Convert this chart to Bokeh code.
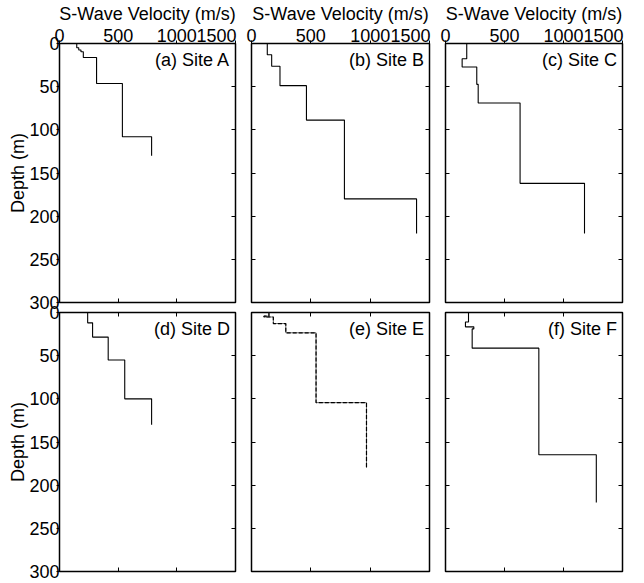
from bokeh.plotting import figure
from bokeh.models import Range1d, LinearAxis, FixedTicker, Label
from bokeh.layouts import column, row
from bokeh.embed import file_html
from bokeh.resources import INLINE

FONT = "Liberation Sans"
FSIZE = 18
FS = f"{FSIZE}px"

x_ticks = [0, 500, 1000, 1500]
y_ticks = [0, 50, 100, 150, 200, 250, 300]
x_title = "S-Wave Velocity (m/s)"
y_title = "Depth (m)"
site_names = ["(a) Site A", "(b) Site B", "(c) Site C",
              "(d) Site D", "(e) Site E", "(f) Site F"]

# layer top depth (m), layer S-wave velocity (m/s), profile end depth (m)
a_top = [0, 5, 7.6, 9.5, 16.3, 46.3, 108]
a_vs = [147, 164, 183, 203, 316, 536, 785]
a_end = 130

b_top = [0, 13.1, 26.4, 48.8, 88.7, 180]
b_vs = [133, 170, 240, 463, 783, 1391]
b_end = 220

c_top = [0, 17.7, 27.2, 47.3, 69, 162]
c_vs = [180, 141, 265, 277, 632, 1178]
c_end = 220

d_top = [0, 12, 28.5, 55, 100]
d_vs = [240, 282, 415, 556, 785]
d_end = 130

e_top = [0, 4.2, 5.2, 12.8, 23.5, 104.4]
e_vs = [147, 105, 184, 289, 544, 969]
e_end = 180

f_top = [0, 11, 16.6, 19, 41.3, 164.7]
f_vs = [195, 169, 240, 226, 791, 1278]
f_end = 220

profiles = [(a_top, a_vs, a_end), (b_top, b_vs, b_end), (c_top, c_vs, c_end),
            (d_top, d_vs, d_end), (e_top, e_vs, e_end), (f_top, f_vs, f_end)]


def step_xy(tops, vs, end):
    bottoms = list(tops[1:]) + [end]
    xs, ys = [], []
    for t, b, v in zip(tops, bottoms, vs):
        xs.extend([v, v])
        ys.extend([t, b])
    return xs, ys


def tick_axis(ticks, tick_in, tick_out):
    """Axis that only draws tick marks."""
    return LinearAxis(ticker=FixedTicker(ticks=ticks, minor_ticks=[]),
                      axis_line_color=None, major_tick_line_color="black",
                      major_tick_line_width=1, minor_tick_line_color=None,
                      major_tick_in=tick_in, major_tick_out=tick_out,
                      major_label_text_font_size="0px", major_label_standoff=0,
                      major_label_overrides={t: "" for t in ticks})


FW = [176, 178, 177]
BL = [59, 8, 8]
BR = [8, 8, 4]
FH = 259
OVER = 12   # border that the two rows share

figs = []
for i, (tops, vs, end) in enumerate(profiles):
    r, c = divmod(i, 3)
    top_row = r == 0
    p = figure(frame_width=FW[c], frame_height=FH,
               x_range=Range1d(0, 1500), y_range=Range1d(300, 0),
               x_axis_type=None, y_axis_type=None,
               toolbar_location=None, output_backend="svg",
               min_border_left=BL[c], min_border_right=BR[c],
               min_border_top=30 if top_row else OVER,
               min_border_bottom=OVER if top_row else 11,
               outline_line_color="black", outline_line_width=1.5,
               background_fill_color="white", border_fill_alpha=0)

    if top_row:
        p.add_layout(tick_axis(x_ticks, 0, 3), "above")
        # tick labels: the last one sits against its tick, as in the reference
        last_w = len(str(x_ticks[-1])) * 0.556 * FSIZE
        shift = round((last_w / 2 - 1) * (x_ticks[-1] - x_ticks[0]) / FW[c])
        lab_pos = x_ticks[:-1] + [x_ticks[-1] - shift]
        lab_axis = LinearAxis(ticker=FixedTicker(ticks=lab_pos, minor_ticks=[]),
                              major_label_overrides={lab_pos[-1]: str(x_ticks[-1])},
                              axis_line_color=None, major_tick_line_color=None,
                              minor_tick_line_color=None, major_tick_in=0, major_tick_out=0,
                              major_label_standoff=-1,
                              major_label_text_font=FONT, major_label_text_font_size=FS,
                              major_label_text_color="black",
                              axis_label=x_title, axis_label_text_font=FONT,
                              axis_label_text_font_size=FS, axis_label_text_font_style="normal",
                              axis_label_text_color="black", axis_label_standoff=2)
        p.add_layout(lab_axis, "above")
    else:
        p.add_layout(tick_axis(x_ticks, 4, 0), "above")
    p.add_layout(tick_axis(x_ticks, 4, 0), "below")

    if c == 0:
        ax_left = LinearAxis(ticker=FixedTicker(ticks=y_ticks, minor_ticks=[]),
                             axis_line_color=None, major_tick_line_color="black",
                             major_tick_line_width=1, minor_tick_line_color=None,
                             major_tick_in=0, major_tick_out=3,
                             major_label_standoff=-3,
                             major_label_text_font=FONT, major_label_text_font_size=FS,
                             major_label_text_color="black",
                             axis_label=y_title, axis_label_text_font=FONT,
                             axis_label_text_font_size=FS, axis_label_text_font_style="normal",
                             axis_label_text_color="black", axis_label_standoff=-2)
        p.add_layout(ax_left, "left")
    else:
        p.add_layout(tick_axis(y_ticks, 4, 0), "left")
    p.add_layout(tick_axis(y_ticks, 4, 0), "right")

    xs, ys = step_xy(tops, vs, end)
    if i == 4:
        p.line(xs, ys, line_color="#666666", line_width=1)
        p.line(xs, ys, line_color="black", line_width=1.2, line_dash="4 2")
    else:
        p.line(xs, ys, line_color="black", line_width=1.1)

    p.add_layout(Label(x=1500, y=0, x_offset=-5.5, y_offset=-16.5, text=site_names[i],
                       text_align="right", text_baseline="middle",
                       text_font=FONT, text_font_size=FS, text_color="black"))
    figs.append(p)

top = row(*figs[:3])
bottom = row(*figs[3:], margin=(-(2 * OVER - 10), 0, 0, 0))
layout = column(top, bottom)
open("out.html", "w").write(file_html(layout, INLINE))
